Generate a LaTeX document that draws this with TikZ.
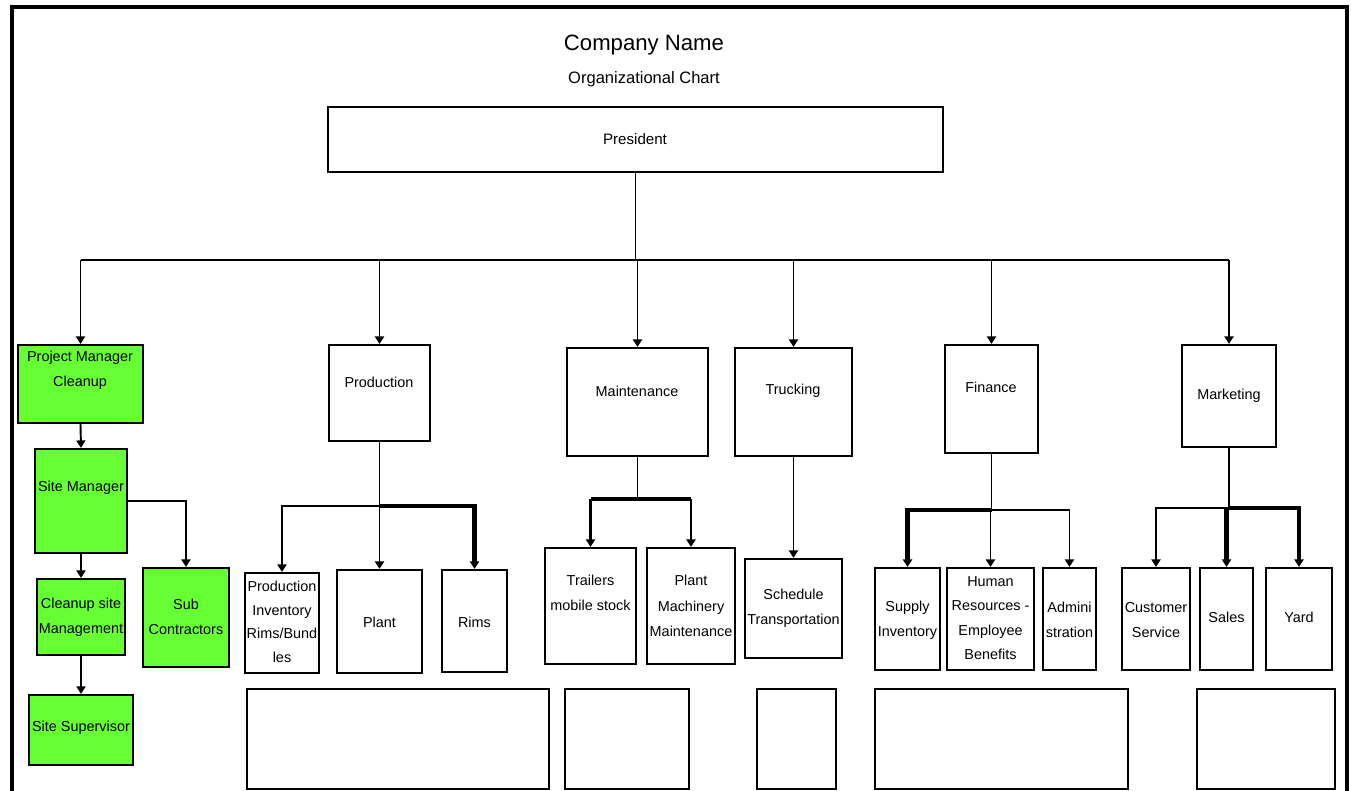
\documentclass[tikz,border=0pt]{standalone}
\usepackage{fontspec}
\setmainfont{Liberation Sans}
\usetikzlibrary{arrows.meta,fit}
\definecolor{cleanupgreen}{RGB}{102,255,51}
\tikzset{
	box/.style={draw, line width=0.6pt, inner sep=0pt},
	gbox/.style={box, fill=cleanupgreen},
	lbl/.style={align=center, inner sep=0pt, font=\fontsize{4.1}{7.2}\selectfont},
	conn/.style={line width=0.55pt},
	arr/.style={conn, -{Triangle[length=0.75mm, width=0.9mm]}},
	heavy/.style={line width=1.2pt}
}

\begin{document}
\begin{tikzpicture}[x=0.01cm, y=-0.01cm]
		%%%%% START %%%%%
		\useasboundingbox (0, 0) rectangle (1351, 791);
		
		\draw[line width=1.2pt] (12, 791) -- (12, 7) -- (1347, 7) -- (1347, 791);
		
		\node[font=\fontsize{6.3}{8}\selectfont] (title) at (644, 45) {Company Name};
		\node[font=\fontsize{4.7}{6}\selectfont] (subtitle) at (644, 79) {Organizational Chart};
		
		\node[box, fit={(328, 107) (943, 172)}] (pres) {};
		\node[lbl, font=\fontsize{4.3}{7}\selectfont] (pres-t) at (635, 139) {President};
		
		% cleanup column
		\node[gbox, fit={(18, 345) (143, 423)}] (pmc) {};
		\node[gbox, fit={(35, 449) (127, 553)}] (sm) {};
		\node[gbox, fit={(37, 579) (125, 655)}] (csm) {};
		\node[gbox, fit={(143, 568) (229, 667)}] (sub) {};
		\node[gbox, fit={(29, 695) (133, 765)}] (ss) {};
		\node[lbl] (pmc-t) at (80, 370) {Project Manager\\Cleanup};
		\node[lbl] (sm-t) at (81, 488) {Site Manager};
		\node[lbl] (csm-t) at (81, 617) {Cleanup site\\Management};
		\node[lbl] (sub-t) at (186, 617) {Sub\\Contractors};
		\node[lbl] (ss-t) at (81, 728) {Site Supervisor};
		
		% departments
		\node[box, fit={(329, 345) (430, 441)}] (prod) {};
		\node[box, fit={(567, 348) (708, 456)}] (mnt) {};
		\node[box, fit={(735, 348) (852, 456)}] (trk) {};
		\node[box, fit={(945, 345) (1038, 453)}] (fin) {};
		\node[box, fit={(1182, 345) (1276, 447)}] (mkt) {};
		\node[lbl] (prod-t) at (379, 382) {Production};
		\node[lbl] (mnt-t) at (637, 391) {Maintenance};
		\node[lbl] (trk-t) at (793, 391) {Trucking};
		\node[lbl] (fin-t) at (991, 387) {Finance};
		\node[lbl] (mkt-t) at (1229, 396) {Marketing};
		
		% sections
		\node[box, fit={(245, 573) (319, 673)}] (pinv) {};
		\node[box, fit={(337, 570) (422, 673)}] (plant) {};
		\node[box, fit={(442, 570) (507, 672)}] (rims) {};
		\node[box, fit={(545, 548) (636, 664)}] (trl) {};
		\node[box, fit={(647, 548) (735, 664)}] (pmm) {};
		\node[box, fit={(745, 559) (842, 658)}] (sched) {};
		\node[box, fit={(875, 568) (940, 670)}] (sup) {};
		\node[box, fit={(947, 568) (1034, 670)}] (hr) {};
		\node[box, fit={(1043, 568) (1096, 670)}] (adm) {};
		\node[box, fit={(1122, 568) (1190, 670)}] (cs) {};
		\node[box, fit={(1200, 568) (1253, 670)}] (sal) {};
		\node[box, fit={(1266, 568) (1332, 670)}] (yard) {};
		\node[lbl, font=\fontsize{4.1}{6.7}\selectfont] (pinv-t) at (282, 622) {Production\\Inventory\\Rims/Bund\\les};
		\node[lbl] (plant-t) at (379.5, 622) {Plant};
		\node[lbl] (rims-t) at (474.5, 622) {Rims};
		\node[lbl] (trl-t) at (590.5, 593) {Trailers\\mobile stock};
		\node[lbl] (pmm-t) at (691, 606) {Plant\\Machinery\\Maintenance};
		\node[lbl] (sched-t) at (793.5, 608) {Schedule\\Transportation};
		\node[lbl] (sup-t) at (907.5, 620) {Supply\\Inventory};
		\node[lbl, font=\fontsize{4.1}{6.9}\selectfont] (hr-t) at (990.5, 618) {Human\\Resources -\\Employee\\Benefits};
		\node[lbl] (adm-t) at (1069.5, 620) {Admini\\stration};
		\node[lbl] (cs-t) at (1156, 620) {Customer\\Service};
		\node[lbl] (sal-t) at (1226.5, 617) {Sales};
		\node[lbl] (yard-t) at (1299, 617) {Yard};
		
		% lower row
		\node[box, fit={(247, 689) (549, 789)}] (bot1) {};
		\node[box, fit={(565, 689) (689, 789)}] (bot2) {};
		\node[box, fit={(757, 689) (836, 789)}] (bot3) {};
		\node[box, fit={(875, 689) (1128, 789)}] (bot4) {};
		\node[box, fit={(1197, 689) (1335, 789)}] (bot5) {};
		
		% president to departments
		\coordinate (bus) at (636, 260);
		\draw[conn] (pres.south) -- (pres.south |- bus);
		\draw[conn] (bus -| pmc.north) -- (bus -| mkt.north);
		\foreach \n in {pmc, prod, mnt, trk, fin, mkt}
			\draw[arr] (bus -| \n.north) -- (\n.north);
		
		\draw[arr] (pmc.south) -- (sm.north);
		\draw[arr] (sm.south) -- (csm.north);
		\draw[arr] (csm.south) -- (ss.north);
		\draw[arr] (sm.east) -| (sub.north);
		
		\coordinate (pbus) at (379, 506);
		\draw[conn] (prod.south) -- (prod.south |- pbus);
		\draw[arr] (pbus -| prod.south) -| (pinv.north);
		\draw[arr] (pbus -| plant.north) -- (plant.north);
		\draw[arr, heavy] (pbus -| prod.south) -| (rims.north);
		
		\coordinate (mbus) at (637, 499);
		\draw[conn] (mnt.south) -- (mnt.south |- mbus);
		\draw[heavy] (mbus -| trl.north) -- (mbus -| pmm.north);
		\draw[arr, line width=0.8pt] (mbus -| trl.north) -- (trl.north);
		\draw[arr, line width=0.8pt] (mbus -| pmm.north) -- (pmm.north);
		\draw[arr] (trk.south) -- (sched.north);
		
		\coordinate (fbus) at (991, 510);
		\draw[conn] (fin.south) -- (fin.south |- fbus);
		\draw[arr, heavy] (fbus -| fin.south) -| (sup.north);
		\draw[arr] (fbus -| fin.south) -| (adm.north);
		\draw[arr] (fbus -| hr.north) -- (hr.north);
		
		\coordinate (kbus) at (1229, 508);
		\draw[conn] (mkt.south) -- (mkt.south |- kbus);
		\draw[arr] (kbus -| mkt.south) -| (cs.north);
		\draw[arr, heavy] (kbus -| mkt.south) -| (yard.north);
		\draw[arr, heavy] (kbus -| sal.north) -- (sal.north);
		
		%%%%% END %%%%%
	\end{tikzpicture}
\end{document}
